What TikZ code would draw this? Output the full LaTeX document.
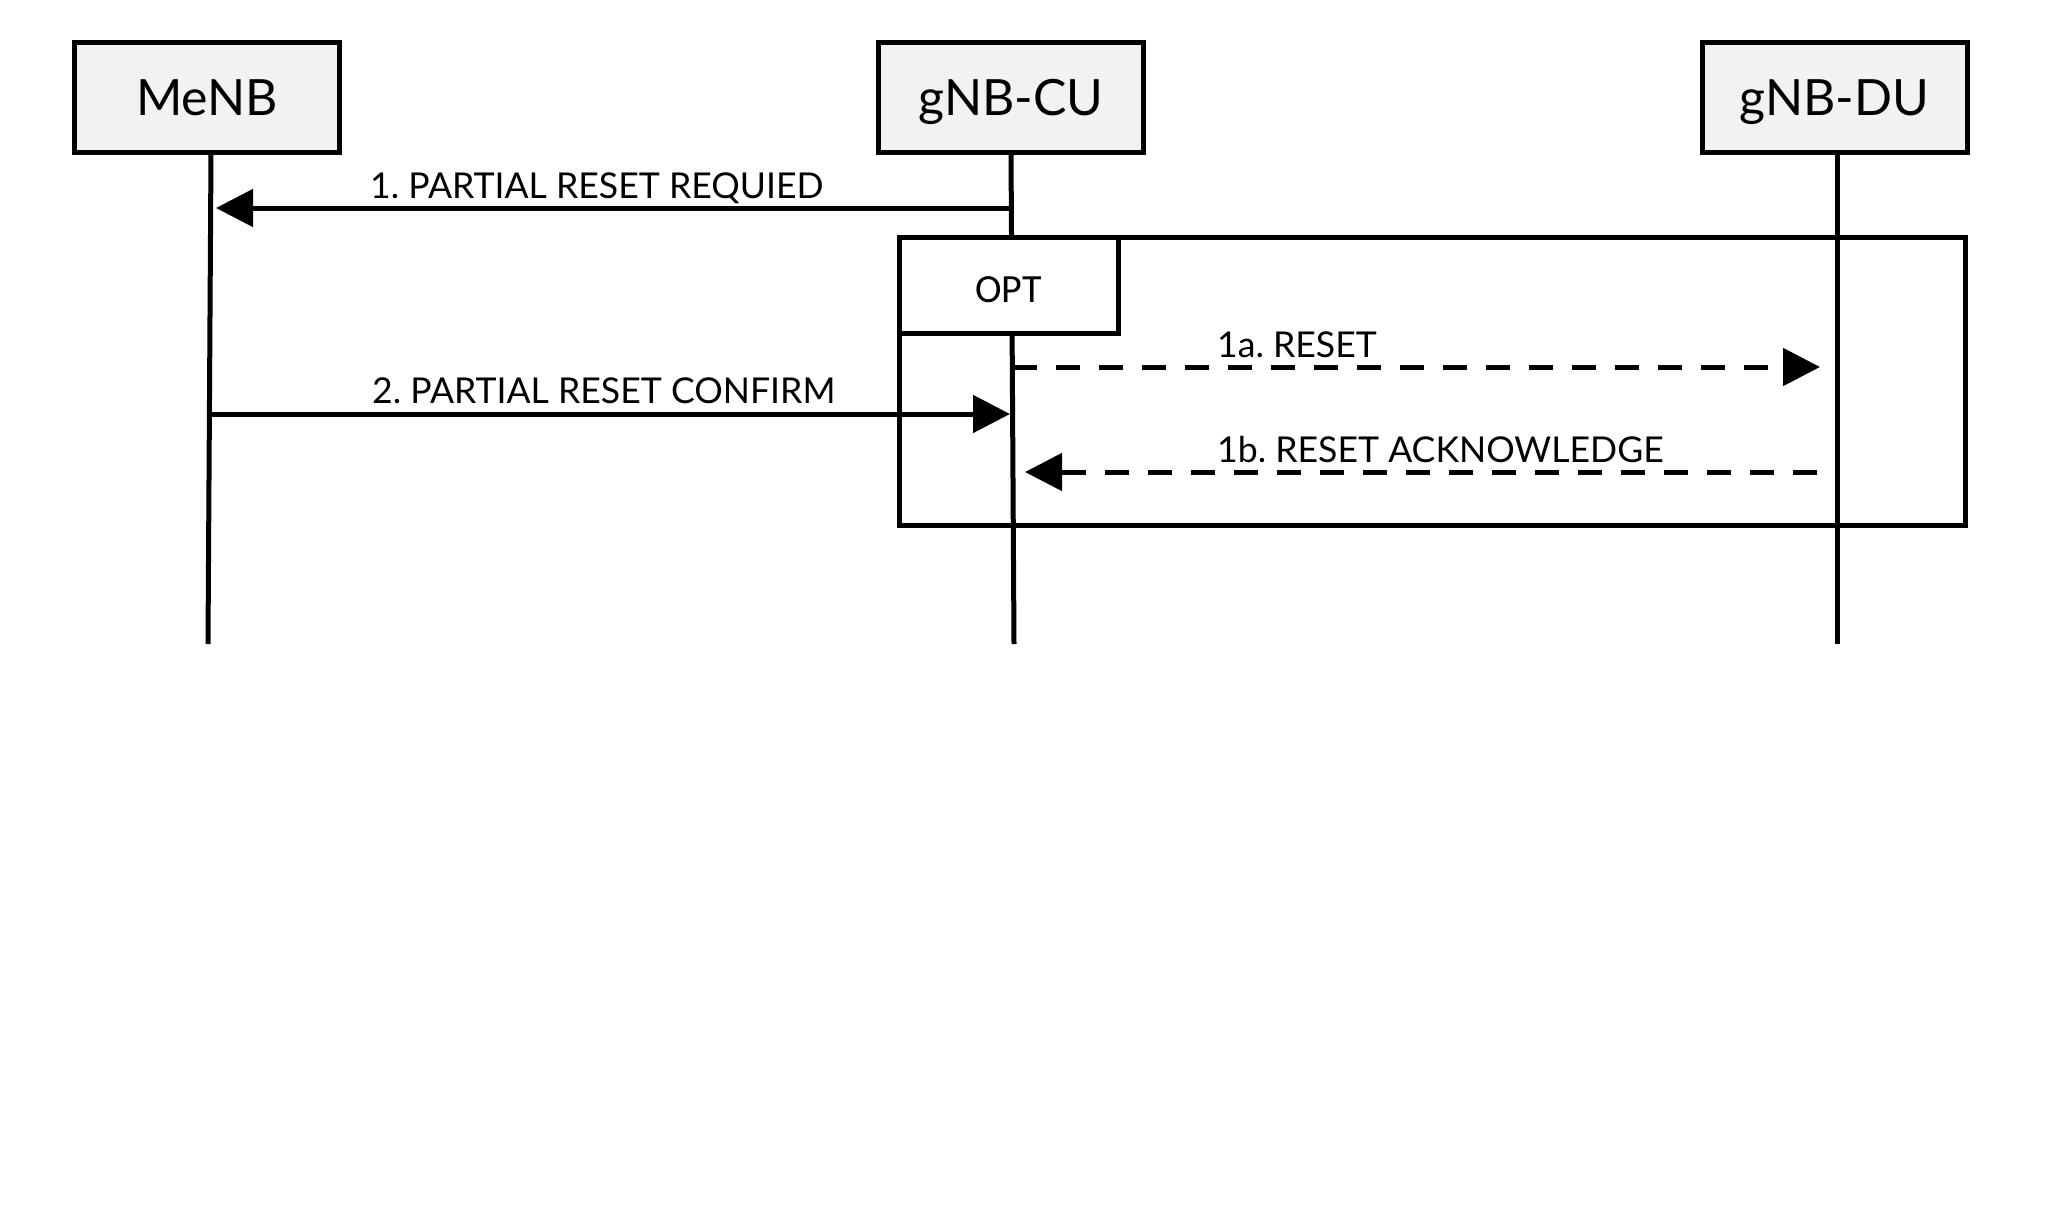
\documentclass[tikz,border=0pt]{standalone}
\usepackage{fontspec}
\setmainfont{Lato}
\newfontfamily\optfont{Carlito}
\usetikzlibrary{arrows.meta}
\definecolor{boxfill}{RGB}{242,242,242}
\frenchspacing
\begin{document}
\frenchspacing
\begin{tikzpicture}[x=1pt,y=-1pt,
  actor/.style={draw, line width=5pt, fill=boxfill, minimum width=265pt, minimum height=110pt, inner sep=0pt, text height=36pt, text depth=0pt, font=\fontsize{50}{60}\selectfont},
  life/.style={line width=5pt},
  msg/.style={line width=5pt, -{Triangle[length=37pt,width=37pt]}},
  dmsg/.style={msg, dash pattern=on 24pt off 19pt},
  lbl/.style={anchor=base west, inner sep=0pt, font=\fontsize{35.6}{43}\selectfont},
  optframe/.style={draw, line width=5pt},
  optlabel/.style={draw, line width=5pt, fill=white, minimum width=219pt, minimum height=96pt, inner sep=0pt, text height=34pt, text depth=0pt, font=\optfont\fontsize{40}{48}\selectfont}
]
\useasboundingbox[fill=white] (0,0) rectangle (2048,1226);

% participants
\node[actor] (menb) at (207,97.5) {MeNB};
\node[actor] (cu) at (1011,97.5) {gNB-CU};
\node[actor] (du) at (1834.5,97.5) {gNB-DU};

% lifeline ends
\coordinate (menbtop) at (211,152.5);
\coordinate (menbbot) at (208,644);
\coordinate (cutop) at (1011,152.5);
\coordinate (cubot) at (1014,644);
\coordinate (dutop) at (1837,152.5);
\coordinate (dubot) at (1837,644);

\draw[life] (menbtop) -- (menbbot);
\draw[life] (cutop) -- (cubot);
\draw[life] (dutop) -- (dubot);

% OPT frame
\node[optframe, minimum width=1066.5pt, minimum height=288pt, inner sep=0pt] (opt) at (1432.25,381) {};
\node[optlabel] (optl) at (1008.5,285) {OPT};

% message end points
\coordinate (m1s) at (1013,208);
\coordinate (m1e) at (216,208);
\coordinate (m1as) at (1013,367);
\coordinate (m1ae) at (1820,367);
\coordinate (m2s) at (209,414);
\coordinate (m2e) at (1010,414);
\coordinate (m1bs) at (1817,472);
\coordinate (m1be) at (1025,472);

\draw[msg] (m1s) -- (m1e);
\draw[dmsg] (m1as) -- (m1ae);
\draw[msg] (m2s) -- (m2e);
\draw[dmsg] (m1bs) -- (m1be);

% labels
\node[lbl] (l1) at (370,198) {1. PARTIAL RESET REQUIED};
\node[lbl] (l1a) at (1217,357) {1a. RESET};
\node[lbl] (l2) at (372,403) {2. PARTIAL RESET CONFIRM};
\node[lbl] (l1b) at (1217,462) {1b. RESET ACKNOWLEDGE};
\end{tikzpicture}
\end{document}
